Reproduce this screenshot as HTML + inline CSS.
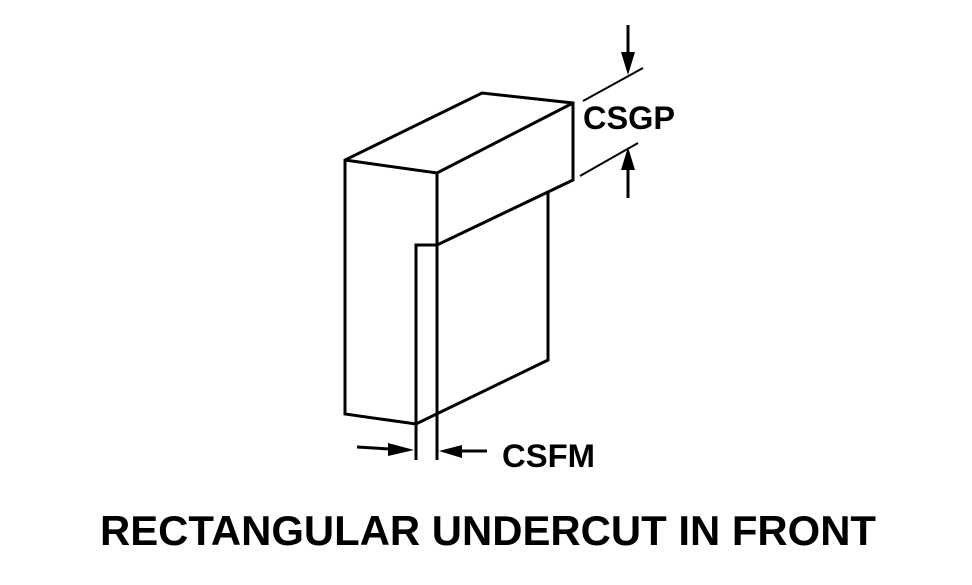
<!DOCTYPE html>
<html><head><style>body{margin:0;background:#fff}svg{display:block}</style></head><body>
<svg width="972" height="585" viewBox="0 0 972 585" xmlns="http://www.w3.org/2000/svg">
<g fill="none" stroke="#000" stroke-width="3" stroke-linejoin="miter">
<polyline points="416,460 416,245 437,245 573,180 573,103 482,93 345,160 345,414 416,424 548,360 548,193"/>
<polyline points="345,160 437,173 573,103"/>
<line x1="437" y1="173" x2="437" y2="460"/>
<line x1="583" y1="101" x2="643" y2="68" stroke-width="2"/>
<line x1="580" y1="176" x2="638" y2="143" stroke-width="2"/>
<line x1="628" y1="25" x2="628" y2="55"/>
<line x1="628" y1="168" x2="628" y2="198"/>
<line x1="357" y1="447" x2="390" y2="449"/>
<line x1="460" y1="451" x2="487" y2="451"/>
</g>
<g fill="#000">
<polygon points="621,52 635,52 628,75"/>
<polygon points="621,170 635,170 628,147"/>
<polygon points="388,443 388,456 414,450"/>
<polygon points="462,445 462,458 439,451"/>
</g>
<g font-family="Liberation Sans, sans-serif" font-weight="bold" fill="#000">
<text x="583" y="129" font-size="32" textLength="92" lengthAdjust="spacingAndGlyphs">CSGP</text>
<text x="502" y="467" font-size="32" textLength="93" lengthAdjust="spacingAndGlyphs">CSFM</text>
<text x="100" y="545" font-size="42" textLength="776" lengthAdjust="spacingAndGlyphs">RECTANGULAR UNDERCUT IN FRONT</text>
</g>
</svg>
</body></html>
